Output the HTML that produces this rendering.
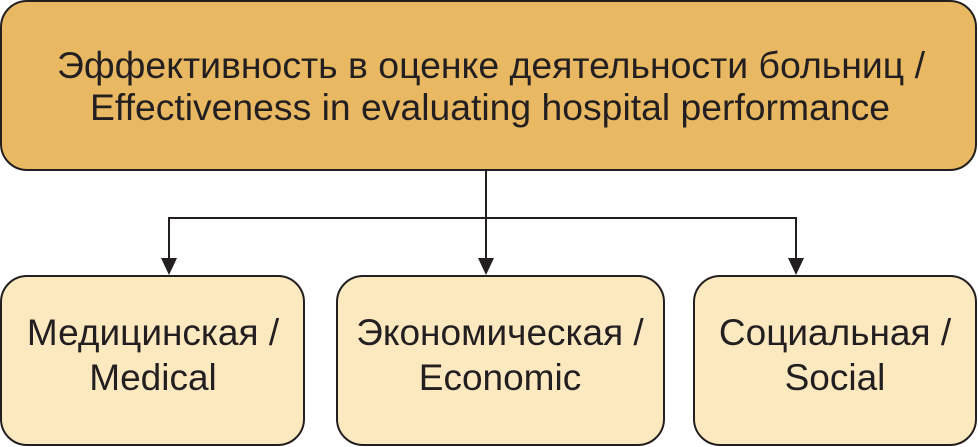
<!DOCTYPE html>
<html><head><style>body{margin:0;background:#fff}svg{display:block}text{font-family:"Liberation Sans",sans-serif;fill:#231f20}</style></head><body>
<svg width="978" height="447" viewBox="0 0 978 447">
<rect x="1" y="1" width="975" height="169" rx="26" fill="#e8b862" stroke="#231f20" stroke-width="2"/>
<text x="57" y="78" font-size="37" textLength="868" lengthAdjust="spacingAndGlyphs">Эффективность в оценке деятельности больниц /</text>
<text x="90" y="120" font-size="37" textLength="800" lengthAdjust="spacingAndGlyphs">Effectiveness in evaluating hospital performance</text>
<path d="M486 170V262M169 262V218H796V262" fill="none" stroke="#231f20" stroke-width="2"/>
<path d="M161 258L169 275L177 258Z M478 258L486 275L494 258Z M788 258L796 275L804 258Z" fill="#231f20"/>
<rect x="1" y="276" width="303" height="169" rx="26" fill="#fde9c0" stroke="#231f20" stroke-width="2"/>
<rect x="337" y="276" width="327" height="169" rx="26" fill="#fde9c0" stroke="#231f20" stroke-width="2"/>
<rect x="694" y="276" width="282" height="169" rx="26" fill="#fde9c0" stroke="#231f20" stroke-width="2"/>
<g font-size="37" text-anchor="middle">
<text x="153" y="345">Медицинская /</text><text x="153" y="390">Medical</text>
<text x="500" y="345">Экономическая /</text><text x="500" y="390">Economic</text>
<text x="835" y="345">Социальная /</text><text x="835" y="390">Social</text>
</g>
</svg>
</body></html>
